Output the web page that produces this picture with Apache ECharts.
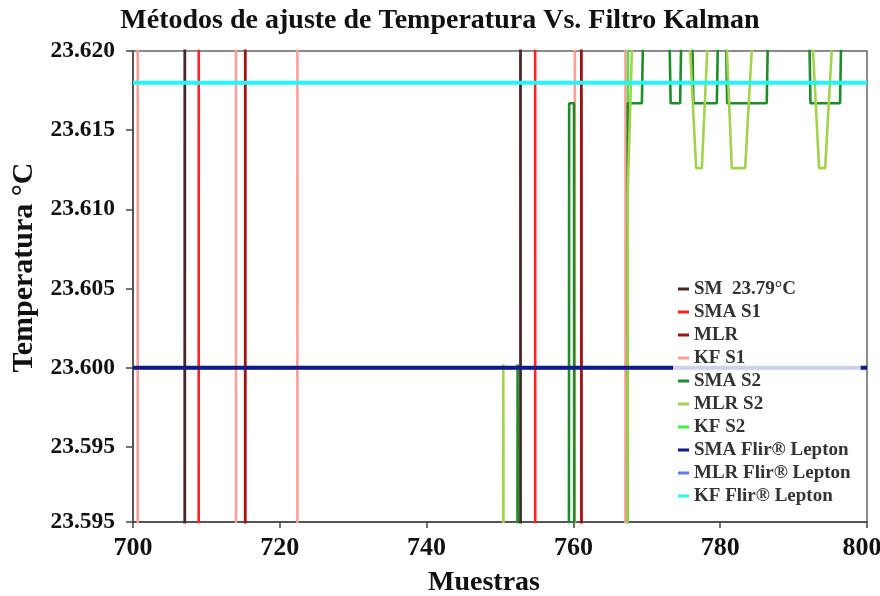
<!DOCTYPE html>
<html>
<head>
<meta charset="utf-8">
<script src="https://cdn.jsdelivr.net/npm/echarts@6/dist/echarts.min.js"></script>
<style>html,body{margin:0;padding:0;background:#fff;}#chart{width:880px;height:596px;}</style>
</head>
<body>
<div id="chart"></div>
<script>
// ---- tick labels ----
const xTicks = [700, 720, 740, 760, 780, 800];
const yTickValues = [23.59025, 23.595, 23.600, 23.605, 23.610, 23.615, 23.620];
const yTickLabels = ['23.595', '23.595', '23.600', '23.605', '23.610', '23.615', '23.620'];

// ---- series names ----
const seriesNames = ['SM  23.79°C', 'SMA S1', 'MLR', 'KF S1', 'SMA S2', 'MLR S2', 'KF S2',
  'SMA Flir® Lepton', 'MLR Flir® Lepton', 'KF Flir® Lepton'];

// ---- series values: [muestra, temperatura °C] ----
const smS = [[700,23.55],[707.04,23.55],[707.07,23.66],[752.78,23.66],[752.81,23.55],[800,23.55]];
const smaS1 = [[700,23.55],[708.94,23.55],[708.97,23.66],[754.78,23.66],[754.81,23.55],[800,23.55]];
const mlrS1 = [[700,23.55],[715.28,23.55],[715.31,23.66],[761.08,23.66],[761.11,23.55],[800,23.55]];
const kfS1 = [[700,23.55],[700.63,23.55],[700.66,23.66],[714.02,23.66],[714.05,23.55],
  [722.38,23.55],[722.41,23.66],[760.18,23.66],[760.21,23.55],[767.08,23.55],[767.11,23.66],[800,23.66]];
const smaS2 = [[700,23.55],[752.3,23.55],[752.4,23.6002],[752.5,23.55],
  [759.35,23.55],[759.42,23.6167],[760.08,23.6167],[760.15,23.55],
  [767.3,23.55],[767.4,23.6167],[769.33,23.6167],[769.83,23.63],
  [772.75,23.63],[773.25,23.6167],[774.54,23.6167],[775.04,23.63],
  [775.85,23.63],[776.35,23.6167],[779.54,23.6167],[780.04,23.63],
  [780.45,23.63],[780.95,23.6167],[786.34,23.6167],[786.84,23.63],
  [791.8,23.63],[792.3,23.6167],[796.33,23.6167],[796.83,23.63],[800,23.63]];
const mlrS2 = [[700,23.55],[750.35,23.55],[750.45,23.6002],[750.55,23.55],
  [767.3,23.55],[767.4,23.611],[768.0,23.6205],[768.4,23.63],
  [775.8,23.621],[776.72,23.6126],[777.5,23.6126],[778.33,23.621],
  [780.83,23.621],[781.58,23.6126],[783.4,23.6126],[784.41,23.621],
  [792.54,23.621],[793.47,23.6126],[794.3,23.6126],[795.31,23.621],[800,23.625]];
const kfS2 = [[700,23.55],[767.38,23.55],[767.42,23.63],[800,23.63]];
const smaFlir = [[700,23.6000],[800,23.6000]];
const mlrFlir = [[700,23.6000],[800,23.6000]];
const kfFlir = [[700,23.6180],[800,23.6180]];

const colors = {
  'SM  23.79°C': '#4a2626',
  'SMA S1': '#ff2222',
  'MLR': '#a01212',
  'KF S1': '#ff9e96',
  'SMA S2': '#1f8c2a',
  'MLR S2': '#a4d24c',
  'KF S2': '#3cf03c',
  'SMA Flir® Lepton': '#0c1a8a',
  'MLR Flir® Lepton': '#5b80d8',
  'KF Flir® Lepton': '#22f6f6'
};

const serif = 'Liberation Serif';

function mk(name, data, width, z) {
  return {
    name: name, type: 'line', data: data, symbol: 'none', z: z,
    clip: true, silent: true,
    lineStyle: { color: colors[name], width: width },
    itemStyle: { color: colors[name] }
  };
}

const series = [
  mk('KF S2', kfS2, 2.5, 2),
  mk('SM  23.79°C', smS, 2.8, 2),
  mk('SMA S1', smaS1, 2.6, 2),
  mk('MLR', mlrS1, 2.8, 2),
  mk('KF S1', kfS1, 2.6, 2),
  mk('SMA S2', smaS2, 2.6, 2),
  mk('MLR S2', mlrS2, 2.6, 2),
  mk('MLR Flir® Lepton', mlrFlir, 3, 3),
  mk('SMA Flir® Lepton', smaFlir, 4, 3),
  mk('KF Flir® Lepton', kfFlir, 4, 3)
];

const chart = echarts.init(document.getElementById('chart'), null, { renderer: 'canvas' });
chart.setOption({
  animation: false,
  backgroundColor: '#fff',
  title: {
    text: 'Métodos de ajuste de Temperatura Vs. Filtro Kalman',
    left: 'center', top: 2,
    textStyle: { fontFamily: serif, fontWeight: 'bold', fontSize: 28, color: '#111' }
  },
  grid: {
    left: 133, right: 13, top: 51, bottom: 74,
    outerBoundsMode: 'none', containLabel: false,
    show: true, borderColor: '#666', borderWidth: 1.5, backgroundColor: 'transparent'
  },
  legend: {
    data: seriesNames,
    orient: 'vertical',
    left: 673, top: 269, z: 10,
    padding: [10, 10, 10, 5],
    itemGap: 3,
    itemWidth: 11, itemHeight: 3,
    icon: 'rect',
    backgroundColor: 'rgba(255,255,255,0.8)',
    textStyle: { fontFamily: serif, fontWeight: 'bold', fontSize: 19, color: '#333', lineHeight: 20 }
  },
  xAxis: {
    type: 'value', min: 700, max: 800, interval: 20,
    name: 'Muestras', nameLocation: 'middle', nameGap: 47,
    nameTextStyle: { fontFamily: serif, fontWeight: 'bold', fontSize: 28, color: '#111', padding: [0, 32, 0, 0] },
    axisLine: { show: true, onZero: false, lineStyle: { color: '#444', width: 1.5 } },
    axisTick: { show: true, length: 6, lineStyle: { color: '#444', width: 1.5 } },
    axisLabel: {
      fontFamily: serif, fontWeight: 'bold', fontSize: 26, color: '#111', margin: 13,
      formatter: function (v) {
        const s = String(Math.round(v));
        return Math.round(v) === xTicks[xTicks.length - 1] ? '{r|' + s + '}' : s;
      },
      rich: { r: { fontFamily: serif, fontWeight: 'bold', fontSize: 26, color: '#111', padding: [0, 10, 0, 0] } }
    },
    splitLine: { show: false }
  },
  yAxis: {
    type: 'value', min: yTickValues[0], max: yTickValues[yTickValues.length - 1],
    name: 'Temperatura °C', nameLocation: 'middle', nameGap: 90, nameRotate: 90,
    nameTextStyle: { fontFamily: serif, fontWeight: 'bold', fontSize: 30, color: '#111', padding: [0, 0, 0, 38] },
    axisLine: { show: true, onZero: false, lineStyle: { color: '#444', width: 1.5 } },
    axisTick: { show: true, length: 7, customValues: yTickValues, lineStyle: { color: '#444', width: 1.5 } },
    axisLabel: {
      customValues: yTickValues,
      fontFamily: serif, fontWeight: 'bold', fontSize: 23.5, color: '#111', margin: 18,
      formatter: function (v) {
        let best = 0, bd = Infinity;
        yTickValues.forEach(function (t, i) { const d = Math.abs(t - v); if (d < bd) { bd = d; best = i; } });
        return yTickLabels[best];
      }
    },
    splitLine: { show: false }
  },
  series: series
});
</script>
</body>
</html>
